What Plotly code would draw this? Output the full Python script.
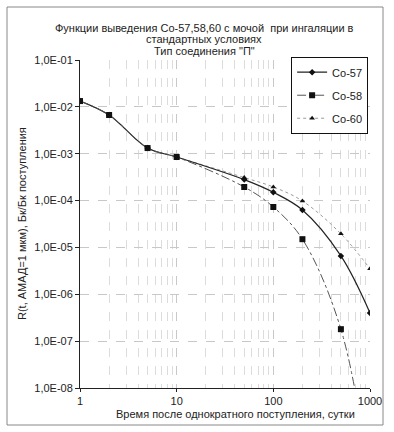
import plotly.graph_objects as go

t = [1, 2, 5, 10, 50, 100, 200, 500, 1000]
co57 = [1.33e-2, 6.7e-3, 1.32e-3, 8.5e-4, 2.8e-4, 1.5e-4, 6.3e-5, 6.6e-6, 4.0e-7]
co58 = [1.33e-2, 6.7e-3, 1.32e-3, 8.5e-4, 1.95e-4, 7.3e-5, 1.5e-5, 1.8e-7, 1.0e-10]
co60 = [1.33e-2, 6.7e-3, 1.32e-3, 8.5e-4, 3.1e-4, 1.95e-4, 9.8e-5, 1.95e-5, 3.5e-6]

y_tickvals = [1e-8, 1e-7, 1e-6, 1e-5, 1e-4, 1e-3, 1e-2, 1e-1]
y_ticktext = ["1,0E-08", "1,0E-07", "1,0E-06", "1,0E-05", "1,0E-04", "1,0E-03", "1,0E-02", "1,0E-01"]
x_tickvals = [1, 10, 100, 1000]
x_ticktext = ["1", "10", "100", "1000"]
title_lines = ["Функции выведения Со-57,58,60 с мочой  при ингаляции в",
               "стандартных условиях",
               "Тип соединения \"П\""]

FONT = "Liberation Sans, Arial, sans-serif"

fig = go.Figure()
fig.add_trace(go.Scatter(x=t, y=co60, name="Co-60", mode="lines+markers", line_shape="spline",
                         line=dict(color="#9a9a9a", width=1, dash="dot"),
                         marker=dict(symbol="triangle-up", size=5, color="#111"),
                         legendrank=3, legendgroup="c"))
fig.add_trace(go.Scatter(x=t, y=co57, name="Co-57", mode="lines+markers", line_shape="spline",
                         line=dict(color="#222", width=1.2),
                         marker=dict(symbol="diamond", size=5, color="#111"),
                         legendrank=1, legendgroup="a"))
fig.add_trace(go.Scatter(x=t, y=co58, name="Co-58", mode="lines+markers", line_shape="spline",
                         line=dict(color="#555", width=1, dash="dashdot"),
                         marker=dict(symbol="square", size=6, color="#111"),
                         legendrank=2, legendgroup="b"))

def px_x(px):
    return (px - 80) / 290

def px_y(py):
    return (388 - py) / 328

annotations = []
for i, line in enumerate(title_lines):
    annotations.append(dict(text=line, xref="paper", yref="paper", x=px_x(204), y=px_y(28 + 11.3 * i),
                            xanchor="center", yanchor="middle", showarrow=False,
                            font=dict(size=11, color="#222")))
annotations.append(dict(text="R(t, АМАД=1 мкм), Бк/Бк поступления", textangle=-90,
                        xref="paper", yref="paper", x=px_x(22), y=0.5,
                        xanchor="center", yanchor="middle", showarrow=False,
                        font=dict(size=11, color="#222")))
annotations.append(dict(text="Время после однократного поступления, сутки",
                        xref="paper", yref="paper", x=px_x(235), y=px_y(414),
                        xanchor="center", yanchor="middle", showarrow=False,
                        font=dict(size=11, color="#222")))

fig.update_layout(
    width=394, height=432,
    margin=dict(l=80, r=24, t=60, b=44, autoexpand=False),
    paper_bgcolor="white", plot_bgcolor="white",
    font=dict(family=FONT, size=11, color="#222"),
    showlegend=True,
    legend=dict(x=0.728, y=1.01, xanchor="left", yanchor="top",
                bgcolor="white", bordercolor="#111", borderwidth=1,
                font=dict(size=11, color="#222"), traceorder="grouped",
                tracegroupgap=4, itemwidth=30),
    xaxis=dict(type="log", range=[0, 3], tickvals=x_tickvals, ticktext=x_ticktext,
               showline=True, linecolor="#222", linewidth=1,
               ticks="outside", ticklen=3, tickcolor="#222",
               showgrid=True, gridcolor="#c8c8c8", griddash="dash", gridwidth=1,
               minor=dict(showgrid=True, gridcolor="#dcdcdc", griddash="dash", ticks="", dtick="D1"),
               zeroline=False),
    yaxis=dict(type="log", range=[-8, -1], tickvals=y_tickvals, ticktext=y_ticktext,
               showline=True, linecolor="#222", linewidth=1,
               ticks="outside", ticklen=4, tickcolor="#222",
               showgrid=True, gridcolor="#c8c8c8", griddash="dash", gridwidth=1,
               zeroline=False),
    shapes=[
        dict(type="rect", xref="paper", yref="paper", x0=px_x(7), x1=px_x(383), y0=px_y(425), y1=px_y(7),
             line=dict(color="#888", width=1), layer="below"),
    ],
    annotations=annotations,
)

fig.write_html("out.html", config={"displayModeBar": False},
               post_script="document.body.style.margin='0';document.body.style.padding='0';")
